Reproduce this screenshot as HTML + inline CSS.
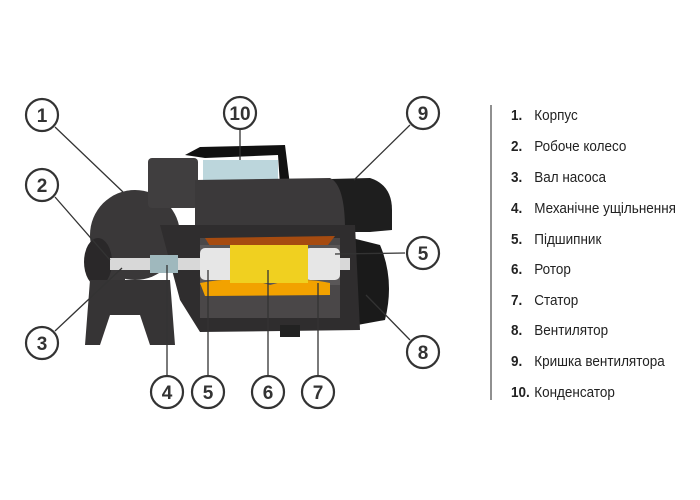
<!DOCTYPE html>
<html><head><style>
body{margin:0;background:#fff;width:700px;height:500px;overflow:hidden}
.l{position:absolute;left:511px;font-family:"Liberation Sans","DejaVu Sans",sans-serif;font-size:14.5px;color:#222;transform:scaleX(0.93);transform-origin:left;white-space:nowrap}
.l b{display:inline-block;width:25px}
</style></head><body>
<svg width="700" height="500" style="position:absolute;left:0;top:0">
<g>
<path d="M290 180 L370 178 Q392 185 392 210 L392 230 L370 232 L300 232Z" fill="#1e1e1e"/>
<path d="M340 235 L380 245 Q395 280 385 320 L330 330 L330 240Z" fill="#1a1a1a"/>
<path d="M185 155 L200 147 L285 145 L290 185 L280 185 L278 155 L205 158 Z" fill="#111"/>
<rect x="203" y="160" width="75" height="22" fill="#bcd6dc"/>
<ellipse cx="135" cy="235" rx="45" ry="45" fill="#3a3839"/>
<rect x="148" y="158" width="50" height="50" rx="4" fill="#403e3f"/>
<rect x="95" y="240" width="30" height="45" fill="#3a3839"/>
<ellipse cx="98" cy="262" rx="14" ry="24" fill="#2a2829"/>
<path d="M90 280 L170 280 L175 345 L150 345 L140 315 L110 315 L100 345 L85 345Z" fill="#363435"/>
<path d="M195 180 L330 178 Q345 185 345 230 L195 232Z" fill="#3b393a"/>
<rect x="200" y="228" width="145" height="5" fill="#cfcfcf"/>
<path d="M160 225 L355 225 L360 330 L200 332 L180 300Z" fill="#2f2d2e"/>
<rect x="200" y="238" width="140" height="80" fill="#4a4748"/>
<path d="M205 238 L335 236 L328 245 L210 246Z" fill="#a64b10"/>
<rect x="200" y="245" width="140" height="40" fill="#5a5758"/>
<path d="M200 283 Q240 275 270 285 Q300 276 330 283 L330 295 L205 296Z" fill="#f2a200"/>
<rect x="110" y="258" width="240" height="12" fill="#d8d8d8"/>
<rect x="200" y="248" width="35" height="32" rx="5" fill="#e6e6e6"/>
<rect x="305" y="248" width="35" height="32" rx="5" fill="#e6e6e6"/>
<rect x="230" y="245" width="78" height="38" fill="#f0d020"/>
<rect x="150" y="255" width="28" height="18" fill="#9fb8bd"/>
<rect x="280" y="325" width="20" height="12" fill="#222"/>
</g>
<g stroke="#333" stroke-width="1.3" fill="none">
<line x1="55" y1="127" x2="123" y2="192"/>
<line x1="240" y1="130" x2="240" y2="160"/>
<line x1="410" y1="125" x2="354" y2="180"/>
<line x1="55" y1="197" x2="110" y2="260"/>
<line x1="405" y1="253" x2="335" y2="254"/>
<line x1="55" y1="331" x2="122" y2="268"/>
<line x1="167" y1="375" x2="167" y2="265"/>
<line x1="208" y1="375" x2="208" y2="270"/>
<line x1="268" y1="375" x2="268" y2="270"/>
<line x1="318" y1="375" x2="318" y2="283"/>
<line x1="410" y1="340" x2="366" y2="295"/>
<line x1="491" y1="105" x2="491" y2="400" stroke="#555"/>
</g>
<g fill="#fff" stroke="#333" stroke-width="2.2" font-family="Liberation Sans,sans-serif" font-weight="bold" font-size="19" text-anchor="middle">
<circle cx="42" cy="115" r="16"/><circle cx="240" cy="113" r="16"/><circle cx="423" cy="113" r="16"/>
<circle cx="42" cy="185" r="16"/><circle cx="423" cy="253" r="16"/><circle cx="42" cy="343" r="16"/>
<circle cx="167" cy="392" r="16"/><circle cx="208" cy="392" r="16"/><circle cx="268" cy="392" r="16"/>
<circle cx="318" cy="392" r="16"/><circle cx="423" cy="352" r="16"/>
<g fill="#333" stroke="none">
<text x="42" y="122">1</text><text x="240" y="120">10</text><text x="423" y="120">9</text>
<text x="42" y="192">2</text><text x="423" y="260">5</text><text x="42" y="350">3</text>
<text x="167" y="399">4</text><text x="208" y="399">5</text><text x="268" y="399">6</text>
<text x="318" y="399">7</text><text x="423" y="359">8</text>
</g></g>
</svg>
<div class="l" style="top:108px"><b>1.</b>Корпус</div>
<div class="l" style="top:139px"><b>2.</b>Робоче колесо</div>
<div class="l" style="top:170px"><b>3.</b>Вал насоса</div>
<div class="l" style="top:201px"><b>4.</b>Механічне ущільнення</div>
<div class="l" style="top:232px"><b>5.</b>Підшипник</div>
<div class="l" style="top:262px"><b>6.</b>Ротор</div>
<div class="l" style="top:293px"><b>7.</b>Статор</div>
<div class="l" style="top:323px"><b>8.</b>Вентилятор</div>
<div class="l" style="top:354px"><b>9.</b>Кришка вентилятора</div>
<div class="l" style="top:385px"><b>10.</b>Конденсатор</div>
</body></html>
